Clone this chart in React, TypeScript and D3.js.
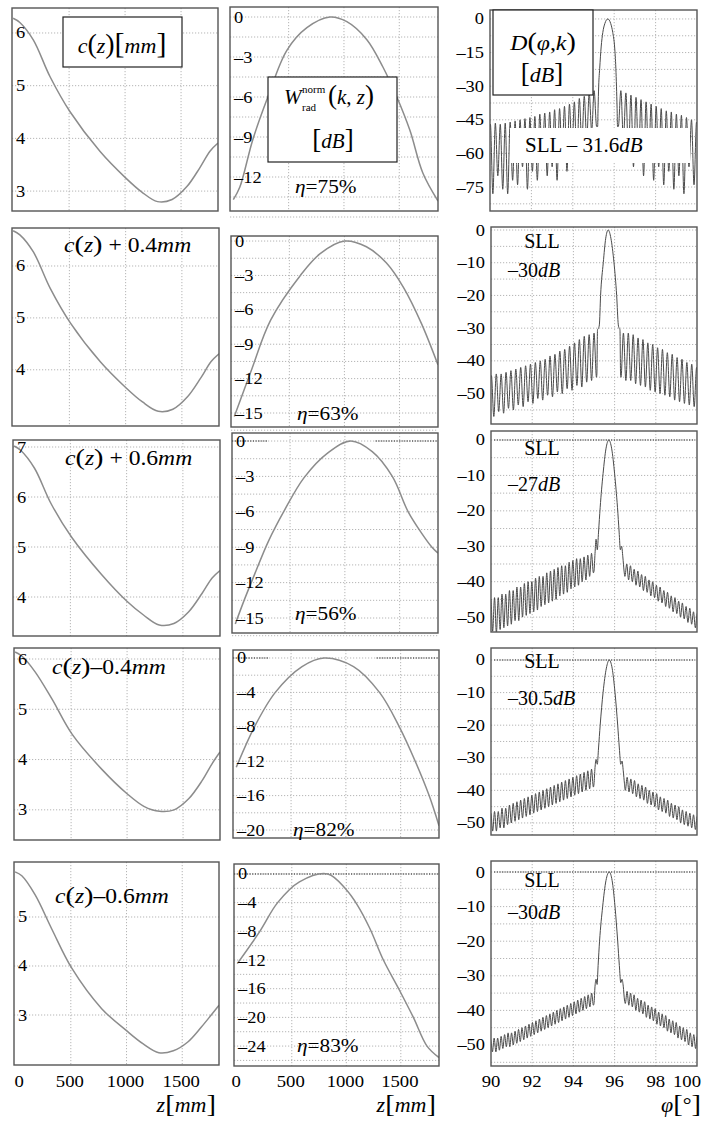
import * as d3 from "d3";

const FONT = "Liberation Serif, DejaVu Serif, serif";
const GRID = "#b5b5b5";

// ---------- column 1: waveguide profile c(z) [mm] ----------
const zC = [0, 60, 180, 330, 510, 777, 1000, 1150, 1290, 1420, 1550, 1670, 1760, 1830];
const cC1 = [6.28, 6.2, 5.87, 5.17, 4.5, 3.75, 3.26, 2.98, 2.8, 2.84, 3.08, 3.45, 3.76, 3.91];
const cC2 = [6.68, 6.6, 6.27, 5.57, 4.9, 4.15, 3.66, 3.38, 3.2, 3.24, 3.48, 3.85, 4.16, 4.31];
const cC3 = [7.02, 6.93, 6.58, 5.86, 5.2, 4.45, 3.92, 3.64, 3.44, 3.47, 3.7, 4.07, 4.38, 4.53];
const cC4 = [6.14, 6.06, 5.74, 5.2, 4.5, 3.8, 3.32, 3.07, 2.97, 3.0, 3.22, 3.58, 3.92, 4.15];
const cC5 = [5.92, 5.84, 5.45, 4.75, 3.95, 3.13, 2.68, 2.41, 2.23, 2.27, 2.45, 2.75, 3.0, 3.2];

// ---------- column 2: normalised radiated power [dB] ----------
const zW1 = [0, 59, 176, 312, 484, 665, 873, 1026, 1207, 1352, 1478, 1596, 1713, 1850];
const wW1 = [-13.7, -12.75, -9.2, -6.0, -2.5, -0.8, 0, -0.35, -1.7, -3.75, -6.0, -8.5, -11.7, -13.8];
const zW2 = [0, 150, 330, 600, 780, 1000, 1200, 1380, 1540, 1700, 1850];
const wW2 = [-15.3, -11.4, -6.9, -3.0, -1.1, 0, -0.5, -1.9, -4.1, -7.2, -10.8];
const zW3 = [0, 85, 176, 302, 447, 628, 845, 1054, 1250, 1433, 1578, 1700, 1795, 1850];
const wW3 = [-15.5, -13.4, -11.3, -8.5, -5.9, -3.1, -1.0, 0, -0.9, -3, -6, -7.8, -9.0, -9.5];
const zW4 = [0, 166, 356, 600, 800, 1070, 1307, 1488, 1633, 1760, 1850];
const wW4 = [-12.7, -8, -4, -1, 0, -1, -4, -8, -12, -16, -19.5];
const zW5 = [0, 207, 370, 570, 830, 1000, 1100, 1216, 1340, 1480, 1615, 1740, 1850];
const wW5 = [-12.5, -8, -4, -1.1, 0, -2.2, -4.3, -7.6, -12, -16, -20, -24, -25.6];
const etaLabels = ["75%", "63%", "56%", "82%", "83%"];

// ---------- column 3: directivity D(phi,k) [dB] ----------
const L1p = [-47, -46.5, -47, -46.5, -46, -45.5, -45, -44.5, -44, -43.5, -42.5, -42, -41.5, -40.5, -40, -39, -38, -37, -35.5, -34.5, -33, -32];
const L1n = [-62, -78, -70, -76, -78, -72, -74, -66, -76, -68, -72, -64, -70, -66, -72, -62, -68, -60, -64, -56, -54, -50, -48];
const M1: [number, number][] = [[95.2, -48], [95.22, -40], [95.25, -30], [95.3, -22], [95.37, -12.5], [95.45, -6], [95.55, -2], [95.69, 0], [95.83, -2], [95.93, -6], [96.02, -12.5], [96.08, -22], [96.11, -30], [96.14, -40], [96.16, -48]];
const R1p = [-32, -33, -34, -35, -36, -37, -38, -39, -40, -41, -41.5, -42.5, -43, -44, -45, -46];
const R1n = [-48, -54, -60, -66, -62, -70, -64, -72, -66, -74, -68, -76, -70, -78, -66, -74, -60];

const L2p = [-44.5, -44, -44, -43.5, -43, -42.5, -42, -41.5, -41, -40.5, -40, -39.5, -38.5, -38, -37, -36.5, -35.5, -34.5, -33.5, -32.5, -32, -31.5];
const L2n = [-55, -57, -55.5, -56, -54.5, -55, -53.5, -54, -52.5, -53, -51.5, -52, -50.5, -51, -49.5, -50, -48.5, -49, -47.5, -48, -46.5, -46, -45];
const M2: [number, number][] = [[95.14, -44], [95.17, -30.5], [95.22, -30], [95.26, -29], [95.32, -20], [95.45, -10], [95.57, -2.5], [95.69, 0], [95.82, -2.5], [95.97, -10], [96.1, -20], [96.18, -29], [96.22, -30], [96.26, -30.5], [96.29, -44]];
const R2p = [-31.5, -31.5, -32, -33, -33.5, -34.5, -35, -36, -36.5, -37.5, -38, -39, -39.5, -40.5, -41, -42];
const R2n = [-45, -46, -46, -47, -47.5, -48, -49, -49.5, -50, -50.5, -51, -52, -52.5, -53, -53.5, -54, -55];

const L3p = [-45, -44.5, -44.5, -43.5, -43.5, -42.5, -42.5, -41.5, -41.5, -40.5, -40, -40, -39, -38.5, -38.5, -37.5, -37, -36.5, -36, -35.5, -35.5, -34.5, -34, -33.5, -33.5, -33, -32.5, -32];
const L3n = [-55, -54, -54.5, -53.5, -53, -52.5, -52, -51, -51, -50, -49.5, -49, -48.5, -48, -47, -46.5, -46, -45.5, -45, -44, -43.5, -43, -42, -41.5, -41, -40, -39.5, -38.5, -37.5];
const M3: [number, number][] = [[95.0, -37], [95.05, -32], [95.1, -28], [95.16, -31], [95.22, -26], [95.3, -19], [95.44, -9.5], [95.58, -2.5], [95.72, 0], [95.86, -2.5], [96.0, -9.5], [96.14, -19], [96.22, -26], [96.28, -31], [96.34, -30], [96.4, -33], [96.46, -37]];
const R3p = [-35, -35.5, -36.5, -37, -38, -38.5, -39.5, -40, -41, -41.5, -42.5, -43, -44, -44.5, -45.5, -46, -47, -47.5, -48.5, -49];
const R3n = [-38.5, -39.5, -40, -41, -41.5, -42.5, -43, -44, -44.5, -45.5, -46, -47, -47.5, -48.5, -49, -50, -50.5, -51.5, -52, -53, -54];

const L4p = [-47, -46.5, -46.5, -45.5, -45.5, -44.5, -44, -43.5, -43, -42.5, -42, -41.5, -41, -40.5, -40, -39.5, -39, -38.5, -38, -37.5, -37, -36.5, -36, -35.5, -35, -34.5, -34, -33.5];
const L4n = [-53, -52.5, -52.5, -51.5, -51.5, -50.5, -50, -49.5, -49, -48.5, -48, -47.5, -47, -46.5, -46, -45.5, -45, -44.5, -44, -43.5, -43, -42.5, -42, -41.5, -41, -40.5, -40, -39.5, -39];
const M4: [number, number][] = [[95.0, -38], [95.05, -33], [95.1, -30.5], [95.16, -32], [95.22, -27], [95.3, -20], [95.44, -10], [95.6, -2.5], [95.74, 0], [95.88, -2.5], [96.02, -10], [96.15, -20], [96.23, -27], [96.3, -32], [96.36, -31], [96.42, -34], [96.48, -38]];
const R4p = [-36, -36.5, -37, -38, -38.5, -39, -40, -40.5, -41, -42, -42.5, -43, -44, -44.5, -45, -46, -46.5, -47, -47.5, -48];
const R4n = [-40, -40.5, -41, -42, -42.5, -43, -44, -44.5, -45, -46, -46.5, -47, -48, -48.5, -49, -50, -50.5, -51, -51.5, -52, -53];

const L5p = [-48.5, -48, -48, -47.5, -47, -46.5, -46.5, -46, -45.5, -45, -44.5, -44, -43.5, -43, -42.5, -42, -41.5, -41, -40.5, -40, -39.5, -39, -38.5, -38, -37.5, -37, -36.5, -36, -35.5, -35];
const L5n = [-52.5, -52, -52, -51.5, -51, -50.5, -50.5, -50, -49.5, -49, -48.5, -48, -47.5, -47, -46.5, -46, -45.5, -45, -44.5, -44, -43.5, -43, -42.5, -42, -41.5, -41, -40.5, -40, -39.5, -39, -38.5];
const M5: [number, number][] = [[95.0, -38], [95.05, -33], [95.1, -31], [95.15, -32.5], [95.2, -27], [95.27, -20], [95.42, -10], [95.58, -2.5], [95.74, 0], [95.88, -2.5], [96.02, -10], [96.15, -20], [96.23, -27], [96.3, -32], [96.36, -31], [96.42, -33], [96.48, -37]];
const R5p = [-34.5, -35, -35.5, -36.5, -37, -37.5, -38.5, -39, -39.5, -40.5, -41, -41.5, -42.5, -43, -43.5, -44.5, -45, -45.5, -46.5, -47, -47.5];
const R5n = [-38, -38.5, -39, -40, -40.5, -41, -42, -42.5, -43, -44, -44.5, -45, -46, -46.5, -47, -48, -48.5, -49, -50, -50.5, -51, -51];

const sllLabels = ["– 31.6", "–30", "–27", "–30.5", "–30"];

// tick values
const zTicks = [0, 500, 1000, 1500];
const phiTicks = [90, 92, 94, 96, 98, 100];
const phiGrid = [92, 94, 96, 98];

type Pt = [number, number];
type Box = { x0: number; y0: number; x1: number; y1: number };
interface Spec {
  box: Box;
  xDomain: [number, number];
  yDomain: [number, number];
  yTicks: number[];
  yGrid: number[];
  xGrid: number[];
}

// side lobes: nulls and peaks alternate, evenly spread over [a, b]
function lobes(a: number, b: number, nulls: number[], peaks: number[]): Pt[] {
  const vals = nulls.flatMap((n, i) => (i < peaks.length ? [n, peaks[i]] : [n]));
  const pos = d3.scaleLinear().domain([0, vals.length - 1]).range([a, b]);
  return vals.map((v, i) => [pos(i), v] as Pt);
}

const zip = (xs: number[], ys: number[]): Pt[] => xs.map((v, i) => [v, ys[i]]);
const fmt = (v: number) => (v < 0 ? "–" + Math.abs(v) : String(v));
const steps = (a: number, b: number, s: number) => d3.range(a, b - 1e-9, -s);

function Txt(props: { x: number; y: number; size: number; sx?: number; anchor?: string; children: any }) {
  const { x, y, size, sx = 1, anchor = "start", children } = props;
  return (
    <text transform={`translate(${x},${y}) scale(${sx},1)`} fontSize={size} textAnchor={anchor as any} fontFamily={FONT} fill="#000">
      {children}
    </text>
  );
}

function Panel(props: {
  id: string;
  spec: Spec;
  data: Pt[];
  color: string;
  width: number;
  labels: "inside" | "outside";
  smooth: boolean;
  zero?: Pt[];
}) {
  const { id, spec, data, color, width, labels, zero, smooth } = props;
  const { box } = spec;
  const x = d3.scaleLinear().domain(spec.xDomain).range([box.x0, box.x1]);
  const y = d3.scaleLinear().domain(spec.yDomain).range([box.y0, box.y1]);
  const line = d3
    .line<Pt>()
    .x((d) => x(d[0]))
    .y((d) => y(d[1]))
    .curve(smooth ? d3.curveCatmullRom.alpha(0.5) : d3.curveMonotoneX);
  return (
    <g>
      <clipPath id={id}>
        <rect x={box.x0} y={box.y0} width={box.x1 - box.x0} height={box.y1 - box.y0} />
      </clipPath>
      <rect x={box.x0} y={box.y0} width={box.x1 - box.x0} height={box.y1 - box.y0} fill="#fff" />
      <g stroke={GRID} strokeWidth={1} strokeDasharray="1.2,1.8">
        {spec.xGrid.map((v) => (
          <line key={"x" + v} x1={x(v)} x2={x(v)} y1={box.y0} y2={box.y1} />
        ))}
        {spec.yGrid.map((v) => (
          <line key={"y" + v} x1={box.x0} x2={box.x1} y1={y(v)} y2={y(v)} />
        ))}
      </g>
      {zero &&
        zero.map((s, i) => (
          <line key={i} x1={x(s[0])} x2={x(s[1])} y1={y(0)} y2={y(0)} stroke="#222" strokeWidth={1.1} strokeDasharray="1.2,1.4" clipPath={`url(#${id})`} />
        ))}
      <path d={line(data) ?? ""} fill="none" stroke={color} strokeWidth={width} clipPath={`url(#${id})`} />
      <rect x={box.x0} y={box.y0} width={box.x1 - box.x0} height={box.y1 - box.y0} fill="none" stroke="#555" strokeWidth={1.4} />
      {spec.yTicks.map((v) =>
        labels === "inside" ? (
          <Txt key={v} x={box.x0 + 4} y={y(v) + 5.5} size={16} sx={1.15}>
            {fmt(v)}
          </Txt>
        ) : (
          <Txt key={v} x={box.x0 - 6} y={y(v) + 5.5} size={16} sx={1.15} anchor="end">
            {fmt(v)}
          </Txt>
        )
      )}
    </g>
  );
}

// ----- layout -----
const c1Boxes: Box[] = [
  { x0: 12, y0: 8, x1: 218, y1: 211 },
  { x0: 12, y0: 228, x1: 219, y1: 426 },
  { x0: 13, y0: 440, x1: 220, y1: 636 },
  { x0: 14, y0: 648, x1: 220, y1: 840 },
  { x0: 14, y0: 862, x1: 219, y1: 1065 },
];
const c1Y: [number, number][] = [[6.474, 2.622], [6.732, 2.917], [7.14, 3.22], [6.219, 2.4], [6.122, 1.98]];
const c1Ticks = [[3, 4, 5, 6], [4, 5, 6], [4, 5, 6, 7], [3, 4, 5, 6], [3, 4, 5]];

const c2Boxes: Box[] = [
  { x0: 230, y0: 7, x1: 438, y1: 211 },
  { x0: 231, y0: 236, x1: 438, y1: 427 },
  { x0: 232, y0: 433, x1: 438, y1: 633 },
  { x0: 233, y0: 650, x1: 439, y1: 838 },
  { x0: 234, y0: 864, x1: 439, y1: 1066 },
];
const c2Y: [number, number][] = [[0.75, -14.55], [0.44, -16.22], [0.68, -16.27], [0.93, -20.93], [1.39, -26.78]];
const c2Ticks = [[0, -3, -6, -9, -12], [0, -3, -6, -9, -12, -15], [0, -3, -6, -9, -12, -15], [0, -4, -8, -12, -16, -20], [0, -4, -8, -12, -16, -20, -24]];
const c2Grid = [steps(0, -15, 1.5), steps(0, -16.5, 1.5), steps(0, -16.5, 1.5), steps(0, -21, 2), steps(0, -27, 2)];

const c3Boxes: Box[] = [
  { x0: 490, y0: 10, x1: 697, y1: 211 },
  { x0: 491, y0: 227, x1: 697, y1: 424 },
  { x0: 491, y0: 431, x1: 697, y1: 632 },
  { x0: 491, y0: 648, x1: 697, y1: 835 },
  { x0: 491, y0: 861, x1: 697, y1: 1066 },
];
const c3Y: [number, number][] = [[4.0, -85.7], [0.92, -59.3], [2.54, -54.2], [3.68, -53.7], [3.18, -56.07]];
const c3Ticks = [[0, -15, -30, -45, -60, -75], [0, -10, -20, -30, -40, -50], [0, -10, -20, -30, -40, -50], [0, -10, -20, -30, -40, -50], [0, -10, -20, -30, -40, -50]];
const c3Grid = [steps(0, -85, 7.5), steps(0, -59, 5), steps(0, -54, 5), steps(0, -53, 5), steps(0, -56, 5)];

const cData = [cC1, cC2, cC3, cC4, cC5].map((c) => zip(zC, c));
const wData = [zip(zW1, wW1), zip(zW2, wW2), zip(zW3, wW3), zip(zW4, wW4), zip(zW5, wW5)];
const dData: Pt[][] = [
  [...lobes(89.9, 95.15, L1n, L1p), ...M1, ...lobes(96.2, 100.1, R1n, R1p)],
  [...lobes(89.9, 95.12, L2n, L2p), ...M2, ...lobes(96.31, 100.1, R2n, R2p)],
  [...lobes(89.9, 94.97, L3n, L3p), ...M3, ...lobes(96.5, 100.1, R3n, R3p)],
  [...lobes(89.9, 94.97, L4n, L4p), ...M4, ...lobes(96.52, 100.1, R4n, R4p)],
  [...lobes(89.9, 94.97, L5n, L5p), ...M5, ...lobes(96.52, 100.1, R5n, R5p)],
];
const wZero: (Pt[] | undefined)[] = [undefined, undefined, [[-30, 290], [1280, 1850]], [[-30, 290], [1280, 1850]], [[-30, 1850]]];

const cLabels = [
  { y: 252, sign: " + 0.4", x: 64 },
  { y: 465, sign: " + 0.6", x: 65 },
  { y: 674, sign: "–0.4", x: 52 },
  { y: 903, sign: "–0.6", x: 55 },
];
const etaPos = [{ x: 295, y: 193 }, { x: 297, y: 420 }, { x: 295, y: 620 }, { x: 293, y: 836 }, { x: 297, y: 1052 }];
const sllPos = [
  { y1: 248, y2: 277 },
  { y1: 455, y2: 491 },
  { y1: 668, y2: 705 },
  { y1: 887, y2: 919 },
];

function CLabel({ x, y, sign }: { x: number; y: number; sign: string }) {
  return (
    <Txt x={x} y={y} size={20} sx={1.18}>
      <tspan fontStyle="italic">c</tspan>
      <tspan fontSize={24}>(</tspan>
      <tspan fontStyle="italic">z</tspan>
      <tspan fontSize={24}>)</tspan>
      <tspan>{sign}</tspan>
      <tspan fontStyle="italic">mm</tspan>
    </Txt>
  );
}

export default function App() {
  const x1 = d3.scaleLinear().domain([-10, 1830]).range([14, 219]);
  const x2 = d3.scaleLinear().domain([-30, 1850]).range([234, 439]);
  const xp = d3.scaleLinear().domain([90, 100]).range([491, 697]);
  return (
    <div style={{ position: "absolute", left: 0, top: 0 }}>
      <svg width={704} height={1125} viewBox="0 0 704 1125" style={{ display: "block", background: "#fff" }}>
        <rect x={0} y={0} width={704} height={1125} fill="#fff" />
        {c1Boxes.map((b, i) => (
          <Panel
            key={"c" + i}
            id={"c" + i}
            spec={{ box: b, xDomain: [-10, 1830], yDomain: c1Y[i], yTicks: c1Ticks[i], yGrid: c1Ticks[i], xGrid: [500, 1000, 1500] }}
            data={cData[i]}
            color="#8c8c8c"
            width={1.5}
            labels="inside"
            smooth={true}
          />
        ))}
        {c2Boxes.map((b, i) => (
          <Panel
            key={"w" + i}
            id={"w" + i}
            spec={{ box: b, xDomain: [-30, 1850], yDomain: c2Y[i], yTicks: c2Ticks[i], yGrid: c2Grid[i], xGrid: [500, 1000, 1500] }}
            data={wData[i]}
            color="#8c8c8c"
            width={1.5}
            labels="inside"
            smooth={true}
            zero={wZero[i]}
          />
        ))}
        {c3Boxes.map((b, i) => (
          <Panel
            key={"d" + i}
            id={"d" + i}
            spec={{ box: b, xDomain: [90, 100], yDomain: c3Y[i], yTicks: c3Ticks[i], yGrid: c3Grid[i], xGrid: phiGrid }}
            data={dData[i]}
            color="#4a4a4a"
            width={1}
            labels="outside"
            smooth={false}
            zero={i >= 2 ? [[90.15, 99.9]] : undefined}
          />
        ))}

        {/* column 1 annotations */}
        <rect x={63} y={17} width={119} height={50} fill="#fff" stroke="#222" strokeWidth={1.2} />
        <Txt x={122} y={53} size={22} anchor="middle">
          <tspan fontStyle="italic">c</tspan>
          <tspan fontSize={28}>(</tspan>
          <tspan fontStyle="italic">z</tspan>
          <tspan fontSize={28}>)</tspan>
          <tspan fontSize={30}>[</tspan>
          <tspan fontStyle="italic">mm</tspan>
          <tspan fontSize={30}>]</tspan>
        </Txt>
        {cLabels.map((l) => (
          <CLabel key={l.y} x={l.x} y={l.y} sign={l.sign} />
        ))}

        {/* column 2 annotations */}
        <rect x={268} y={77} width={129} height={85} fill="#fff" stroke="#222" strokeWidth={1.2} />
        <Txt x={284} y={104} size={21}>
          <tspan fontStyle="italic">W</tspan>
        </Txt>
        <Txt x={302} y={93} size={11}>norm</Txt>
        <Txt x={302} y={111} size={11}>rad</Txt>
        <Txt x={328} y={104} size={21}>
          <tspan fontSize={27}>(</tspan>
          <tspan fontStyle="italic">k</tspan>
          <tspan>, </tspan>
          <tspan fontStyle="italic">z</tspan>
          <tspan fontSize={27}>)</tspan>
        </Txt>
        <Txt x={333} y={148} size={21} anchor="middle">
          <tspan fontSize={27}>[</tspan>
          <tspan fontStyle="italic">dB</tspan>
          <tspan fontSize={27}>]</tspan>
        </Txt>
        {etaPos.map((p, i) => (
          <Txt key={i} x={p.x} y={p.y} size={19} sx={1.12}>
            <tspan fontStyle="italic">η</tspan>={etaLabels[i]}
          </Txt>
        ))}

        {/* column 3 annotations */}
        <rect x={493} y={10} width={100} height={85} fill="#fff" stroke="#222" strokeWidth={1.2} />
        <Txt x={543} y={50} size={22} anchor="middle" sx={1.08}>
          <tspan fontStyle="italic">D</tspan>
          <tspan fontSize={26}>(</tspan>
          <tspan fontStyle="italic">φ</tspan>
          <tspan>,</tspan>
          <tspan fontStyle="italic">k</tspan>
          <tspan fontSize={26}>)</tspan>
        </Txt>
        <Txt x={542} y={82} size={22} anchor="middle">
          <tspan fontSize={27}>[</tspan>
          <tspan fontStyle="italic">dB</tspan>
          <tspan fontSize={27}>]</tspan>
        </Txt>
        <rect x={510} y={128} width={180} height={35} fill="#fff" />
        <Txt x={525} y={152} size={21}>
          SLL {sllLabels[0]}
          <tspan fontStyle="italic">dB</tspan>
        </Txt>
        {sllPos.map((p, i) => (
          <g key={i}>
            <Txt x={542} y={p.y1} size={20} anchor="middle">
              SLL
            </Txt>
            <Txt x={508} y={p.y2} size={20}>
              {sllLabels[i + 1]}
              <tspan fontStyle="italic">dB</tspan>
            </Txt>
          </g>
        ))}

        {/* bottom axes */}
        {zTicks.map((v) => (
          <g key={v}>
            <Txt x={v === 0 ? x1(v) + 4 : x1(v) - 1} y={1087} size={17} sx={1.1} anchor="middle">
              {v}
            </Txt>
            <Txt x={x2(v) - 1} y={1087} size={17} sx={1.1} anchor="middle">
              {v}
            </Txt>
          </g>
        ))}
        {phiTicks.map((v) => (
          <Txt key={v} x={v === 100 ? xp(v) - 10 : xp(v)} y={1087} size={17} sx={1.1} anchor="middle">
            {v}
          </Txt>
        ))}
        {[216, 436].map((xr) => (
          <Txt key={xr} x={xr} y={1112} size={20} anchor="end" sx={1.1}>
            <tspan fontStyle="italic">z</tspan>
            <tspan fontSize={26}>[</tspan>
            <tspan fontStyle="italic">mm</tspan>
            <tspan fontSize={26}>]</tspan>
          </Txt>
        ))}
        <Txt x={701} y={1112} size={20} anchor="end" sx={1.1}>
          <tspan fontStyle="italic">φ</tspan>
          <tspan fontSize={26}>[</tspan>
          <tspan>°</tspan>
          <tspan fontSize={26}>]</tspan>
        </Txt>
      </svg>
    </div>
  );
}
